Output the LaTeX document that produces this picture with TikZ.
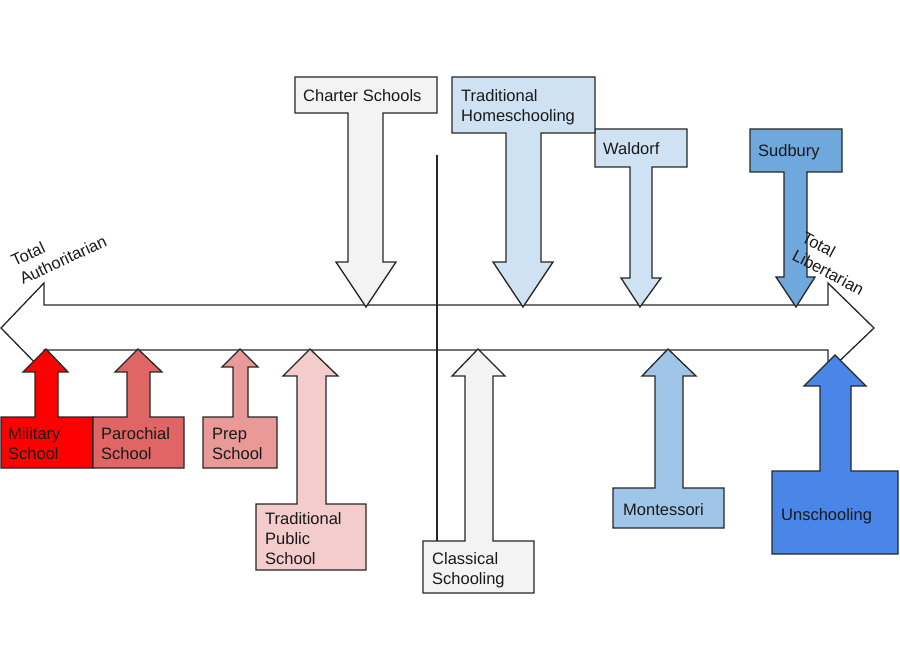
\documentclass[tikz,border=0pt]{standalone}
\usepackage{fontspec}
\setmainfont{Liberation Sans}
\definecolor{cGray}{HTML}{F3F3F3}
\definecolor{cBlueA}{HTML}{CFE2F3}
\definecolor{cBlueB}{HTML}{9FC5E8}
\definecolor{cBlueC}{HTML}{6FA8DC}
\definecolor{cBlueD}{HTML}{4A86E8}
\definecolor{cRedA}{HTML}{FF0000}
\definecolor{cRedB}{HTML}{E06666}
\definecolor{cRedC}{HTML}{EA9999}
\definecolor{cRedD}{HTML}{F4CCCC}
\tikzset{
  blk/.style={draw=black!85, line width=1.3pt, line join=miter},
  lbl/.style={anchor=base west, inner sep=0pt, align=left, font=\fontsize{16.5}{20}\selectfont, text=black!90},
}
\begin{document}
\begin{tikzpicture}[x=1pt,y=-1pt]
\useasboundingbox (0,0) rectangle (900,660);
% axis
\draw[blk] (44,305) -- (828,305) -- (828,283) -- (874,328) -- (828,372) -- (828,350) -- (44,350) -- (44,372) -- (1,328) -- (44,283) -- cycle;
\coordinate (vtop) at (437,155);
\coordinate (vbot) at (437,560);
\draw[blk] (vtop) -- (vbot);
% down arrows
\filldraw[blk, fill=cGray] (295,77) -- (437,77) -- (437,113) -- (383,113) -- (383,262) -- (396,262) -- (366,307) -- (336,262) -- (348,262) -- (348,113) -- (295,113) -- cycle;
\filldraw[blk, fill=cBlueA] (595,129) -- (687,129) -- (687,167) -- (652,167) -- (652,278) -- (661,278) -- (640,307) -- (621,278) -- (630,278) -- (630,167) -- (595,167) -- cycle;
\filldraw[blk, fill=cBlueA] (452,77) -- (595,77) -- (595,133) -- (541,133) -- (541,262) -- (553,262) -- (523,307) -- (493,262) -- (506,262) -- (506,133) -- (452,133) -- cycle;
\filldraw[blk, fill=cBlueC] (750,129) -- (842,129) -- (842,172) -- (807,172) -- (807,277) -- (815,277) -- (796,307) -- (776,277) -- (784,277) -- (784,172) -- (750,172) -- cycle;
% up arrows
\filldraw[blk, fill=cRedA] (1,468) -- (93,468) -- (93,417) -- (58,417) -- (58,372) -- (68,372) -- (46,349) -- (23,372) -- (35,372) -- (35,417) -- (1,417) -- cycle;
\filldraw[blk, fill=cRedB] (93,468) -- (184,468) -- (184,417) -- (150,417) -- (150,372) -- (162,372) -- (138,349) -- (115,372) -- (127,372) -- (127,417) -- (93,417) -- cycle;
\filldraw[blk, fill=cRedC] (203,468) -- (277,468) -- (277,417) -- (248,417) -- (248,367) -- (258,367) -- (240,349) -- (222,367) -- (233,367) -- (233,417) -- (203,417) -- cycle;
\filldraw[blk, fill=cRedD] (256,570) -- (366,570) -- (366,504) -- (326,504) -- (326,376) -- (338,376) -- (310,349) -- (283,376) -- (297,376) -- (297,504) -- (256,504) -- cycle;
\filldraw[blk, fill=cGray] (423,593) -- (534,593) -- (534,541) -- (493,541) -- (493,376) -- (505,376) -- (478,349) -- (452,376) -- (465,376) -- (465,541) -- (423,541) -- cycle;
\filldraw[blk, fill=cBlueB] (613,528) -- (724,528) -- (724,488) -- (683,488) -- (683,376) -- (696,376) -- (668,349) -- (642,376) -- (655,376) -- (655,488) -- (613,488) -- cycle;
\filldraw[blk, fill=cBlueD] (772,554) -- (898,554) -- (898,471) -- (851,471) -- (851,386) -- (866,386) -- (835,355) -- (804,386) -- (820,386) -- (820,471) -- (772,471) -- cycle;
% labels (base anchor = baseline of last line)
\node[lbl] (charter) at (303,102) {Charter Schools};
\node[lbl] (tradhome) at (461,122) {Traditional\\Homeschooling};
\node[lbl] (waldorf) at (603,155) {Waldorf};
\node[lbl] (sudbury) at (758,157) {Sudbury};
\node[lbl] (military) at (8,459) {Military\\School};
\node[lbl] (parochial) at (101,459) {Parochial\\School};
\node[lbl] (prep) at (212,459) {Prep\\School};
\node[lbl] (tradpub) at (265,564) {Traditional\\Public\\School};
\node[lbl] (classical) at (432,584) {Classical\\Schooling};
\node[lbl] (montessori) at (623,515) {Montessori};
\node[lbl] (unschooling) at (781,520) {Unschooling};
\node[lbl, rotate=25] (auth) at (23,285) {Total\\Authoritarian};
\node[lbl, rotate=-28] (lib) at (791,259) {Total\\Libertarian};
\end{tikzpicture}
\end{document}
